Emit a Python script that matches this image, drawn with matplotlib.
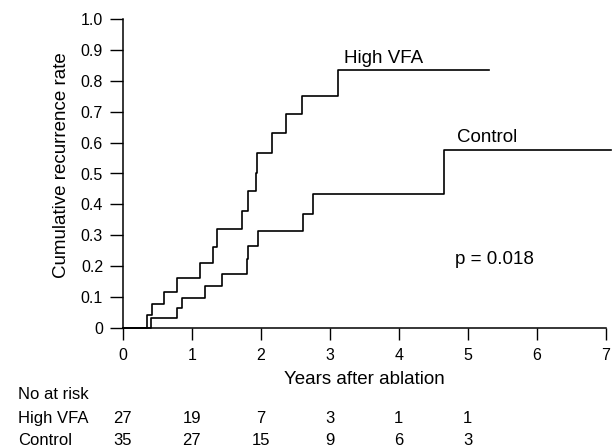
import matplotlib
matplotlib.use("Agg")
import matplotlib.pyplot as plt
import matplotlib.transforms as mtransforms

plt.rcParams['font.family'] = ['Liberation Sans', 'DejaVu Sans']

# Kaplan-Meier style step data (years, cumulative recurrence)
hv_years = [0, 0.35, 0.42, 0.60, 0.78, 1.12, 1.31, 1.36, 1.73, 1.81, 1.93, 1.95,
            2.16, 2.36, 2.60, 3.12, 5.31]
hv_rate = [0, 0.042, 0.077, 0.117, 0.162, 0.209, 0.261, 0.319, 0.379, 0.442,
           0.503, 0.566, 0.631, 0.691, 0.752, 0.836, 0.836]

ctrl_years = [0, 0.41, 0.79, 0.855, 1.19, 1.44, 1.80, 1.82, 1.96, 2.62, 2.76,
              4.66, 7.08]
ctrl_rate = [0, 0.031, 0.064, 0.098, 0.136, 0.174, 0.222, 0.266, 0.313, 0.370,
             0.433, 0.577, 0.577]

x_ticks = [0, 1, 2, 3, 4, 5, 6, 7]
y_ticks = [0, 0.1, 0.2, 0.3, 0.4, 0.5, 0.6, 0.7, 0.8, 0.9, 1.0]
y_tick_labels = ['0', '0.1', '0.2', '0.3', '0.4', '0.5', '0.6', '0.7', '0.8', '0.9', '1.0']

risk_years = [0, 1, 2, 3, 4, 5]
risk_groups = ['High VFA', 'Control']
risk_counts = {
    'High VFA': [27, 19, 7, 3, 1, 1],
    'Control': [35, 27, 15, 9, 6, 3],
}

W, H = 612, 448
fig = plt.figure(figsize=(W / 100, H / 100), dpi=100)
ax = fig.add_axes([122.7 / W, 1 - 328 / H, (605.7 - 122.7) / W, (328 - 19) / H])

lw = 1.2
ax.step(hv_years, hv_rate, where='post', color='black', lw=lw, clip_on=False, zorder=3)
ax.step(ctrl_years, ctrl_rate, where='post', color='black', lw=lw, clip_on=False, zorder=3)

ax.set_xlim(0, 7)
ax.set_ylim(0, 1.0)
ax.set_xticks(x_ticks)
ax.set_yticks(y_ticks)
ax.set_yticklabels(y_tick_labels)

for s in ['top', 'right']:
    ax.spines[s].set_visible(False)
for s in ['left', 'bottom']:
    ax.spines[s].set_linewidth(1.1)

ax.tick_params(axis='y', direction='out', length=9.6, width=1.0, pad=4.5, labelsize=11.5)
ax.tick_params(axis='x', direction='out', length=8.6, width=1.0, pad=5.5, labelsize=11.5)

ax.text(3.21, 0.857, 'High VFA', fontsize=13.5, ha='left', va='baseline')
ax.text(4.84, 0.602, 'Control', fontsize=13.5, ha='left', va='baseline')
ax.text(4.82, 0.206, 'p = 0.018', fontsize=13.5, ha='left', va='baseline')

fig.text(364 / W, 1 - 384 / H, 'Years after ablation', fontsize=13.5,
         ha='center', va='baseline')
fig.text(62 / W, 1 - 165 / H, 'Cumulative recurrence rate', fontsize=13.5,
         rotation=90, ha='center', va='center')

# Number-at-risk table
fig.text(18 / W, 1 - 399 / H, 'No at risk', fontsize=12, ha='left', va='baseline')
blend = mtransforms.blended_transform_factory(ax.transData, fig.transFigure)
row_baselines = [1 - 423.3 / H, 1 - 445 / H]
for grp, yb in zip(risk_groups, row_baselines):
    fig.text(18 / W, yb, grp, fontsize=12, ha='left', va='baseline')
    for yr, n in zip(risk_years, risk_counts[grp]):
        ax.text(yr, yb, str(n), transform=blend, fontsize=12,
                ha='center', va='baseline', clip_on=False)

fig.savefig('out.png', dpi=100)
